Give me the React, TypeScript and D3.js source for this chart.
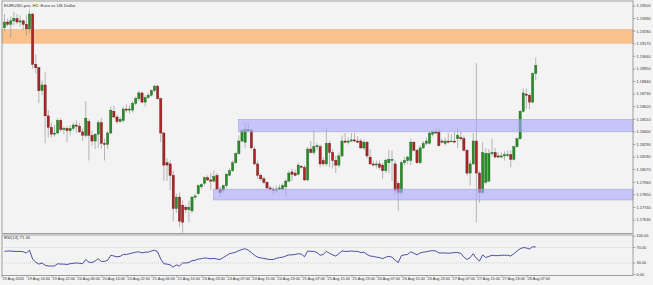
import * as d3 from 'd3';

const W = 653;
const H = 285;

// EURUSD H1, bar 0 = 19 Aug 2020 06:00
const opens = [
  1.1931, 1.1936, 1.1934, 1.1937, 1.1939, 1.1936, 1.1937, 1.1934, 1.1930, 1.1943,
  1.1899, 1.1896, 1.1876, 1.1881, 1.1854, 1.1844, 1.1838, 1.1839, 1.1850, 1.1842,
  1.1843, 1.1841, 1.1843, 1.1846, 1.1845, 1.1840, 1.1837, 1.1849, 1.1837, 1.1832,
  1.1838, 1.1848, 1.1830, 1.1829, 1.1839, 1.1858, 1.1853, 1.1849, 1.1850, 1.1860,
  1.1859, 1.1859, 1.1865, 1.1869, 1.1874, 1.1866, 1.1870, 1.1872, 1.1876, 1.1880,
  1.1869, 1.1839, 1.1813, 1.1812, 1.1802, 1.1773, 1.1783, 1.1776, 1.1774, 1.1772,
  1.1771, 1.1783, 1.1786, 1.1792, 1.1795, 1.1800, 1.1798, 1.1797, 1.1802, 1.1790,
  1.1789, 1.1793, 1.1802, 1.1806, 1.1813, 1.1821, 1.1832, 1.1831, 1.1842, 1.1841,
  1.1825, 1.1812, 1.1802, 1.1799, 1.1796, 1.1791, 1.1790, 1.1789, 1.1790, 1.1790,
  1.1792, 1.1797, 1.1805, 1.1804, 1.1803, 1.1810, 1.1809, 1.1798, 1.1825, 1.1822,
  1.1827, 1.1827, 1.1815, 1.1812, 1.1830, 1.1822, 1.1815, 1.1811, 1.1819, 1.1832,
  1.1831, 1.1832, 1.1833, 1.1832, 1.1832, 1.1826, 1.1831, 1.1818, 1.1812, 1.1811,
  1.1812, 1.1811, 1.1806, 1.1813, 1.1815, 1.1812, 1.1795, 1.1787, 1.1813, 1.1815,
  1.1815, 1.1831, 1.1824, 1.1813, 1.1826, 1.1830, 1.1830, 1.1838, 1.1840, 1.1840,
  1.1832, 1.1830, 1.1832, 1.1832, 1.1832, 1.1834, 1.1835, 1.1834, 1.1824, 1.1804,
  1.1812, 1.1832, 1.1804, 1.1787, 1.1796, 1.1797, 1.1821, 1.1822, 1.1819, 1.1818,
  1.1819, 1.1820, 1.1820, 1.1816, 1.1827, 1.1834, 1.1858, 1.1873, 1.1872, 1.1866,
  1.1891,
];

const highs = [
  1.1943, 1.1939, 1.1941, 1.1945, 1.1943, 1.1942, 1.1938, 1.1942, 1.1947, 1.1944,
  1.1908, 1.1897, 1.1885, 1.1892, 1.1859, 1.1848, 1.1846, 1.1852, 1.1852, 1.1845,
  1.1845, 1.1846, 1.1848, 1.1850, 1.1848, 1.1843, 1.1867, 1.1851, 1.1841, 1.1839,
  1.1850, 1.1852, 1.1834, 1.1841, 1.1862, 1.1863, 1.1855, 1.1853, 1.1862, 1.1864,
  1.1863, 1.1867, 1.1871, 1.1876, 1.1875, 1.1872, 1.1874, 1.1877, 1.1881, 1.1881,
  1.1870, 1.1840, 1.1817, 1.1815, 1.1806, 1.1786, 1.1787, 1.1780, 1.1776, 1.1780,
  1.1784, 1.1786, 1.1794, 1.1795, 1.1801, 1.1802, 1.1804, 1.1806, 1.1804, 1.1792,
  1.1794, 1.1804, 1.1808, 1.1815, 1.1822, 1.1837, 1.1843, 1.1848, 1.1848, 1.1843,
  1.1827, 1.1815, 1.1804, 1.1801, 1.1797, 1.1793, 1.1792, 1.1793, 1.1794, 1.1795,
  1.1799, 1.1806, 1.1808, 1.1807, 1.1813, 1.1811, 1.1811, 1.1827, 1.1832, 1.1841,
  1.1830, 1.1829, 1.1818, 1.1843, 1.1832, 1.1825, 1.1819, 1.1822, 1.1837, 1.1839,
  1.1835, 1.1839, 1.1839, 1.1836, 1.1834, 1.1833, 1.1832, 1.1825, 1.1815, 1.1815,
  1.1815, 1.1813, 1.1817, 1.1824, 1.1824, 1.1815, 1.1797, 1.1815, 1.1818, 1.1819,
  1.1834, 1.1832, 1.1825, 1.1828, 1.1832, 1.1835, 1.1840, 1.1841, 1.1844, 1.1843,
  1.1834, 1.1835, 1.1839, 1.1838, 1.1840, 1.1843, 1.1841, 1.1837, 1.1825, 1.1815,
  1.1839, 1.1900, 1.1806, 1.1831, 1.1826, 1.1825, 1.1834, 1.1826, 1.1822, 1.1822,
  1.1823, 1.1824, 1.1824, 1.1828, 1.1835, 1.1859, 1.1878, 1.1878, 1.1874, 1.1892,
  1.1905,
];

const lows = [
  1.1928, 1.1932, 1.1922, 1.1933, 1.1934, 1.1932, 1.1929, 1.1924, 1.1926, 1.1895,
  1.1891, 1.1865, 1.1872, 1.1830, 1.1835, 1.1835, 1.1836, 1.1838, 1.1840, 1.1838,
  1.1831, 1.1837, 1.1841, 1.1839, 1.1839, 1.1832, 1.1835, 1.1815, 1.1828, 1.1825,
  1.1826, 1.1825, 1.1815, 1.1825, 1.1838, 1.1852, 1.1847, 1.1848, 1.1848, 1.1857,
  1.1856, 1.1857, 1.1863, 1.1867, 1.1865, 1.1862, 1.1869, 1.1871, 1.1875, 1.1868,
  1.1831, 1.1797, 1.1797, 1.1789, 1.1762, 1.1769, 1.1757, 1.1752, 1.1769, 1.1761,
  1.1769, 1.1781, 1.1785, 1.1790, 1.1793, 1.1797, 1.1789, 1.1796, 1.1789, 1.1783,
  1.1787, 1.1791, 1.1801, 1.1805, 1.1812, 1.1820, 1.1831, 1.1826, 1.1840, 1.1825,
  1.1811, 1.1799, 1.1797, 1.1794, 1.1790, 1.1789, 1.1785, 1.1787, 1.1789, 1.1789,
  1.1783, 1.1796, 1.1797, 1.1801, 1.1802, 1.1808, 1.1797, 1.1797, 1.1821, 1.1820,
  1.1824, 1.1809, 1.1810, 1.1810, 1.1809, 1.1808, 1.1804, 1.1809, 1.1818, 1.1830,
  1.1829, 1.1831, 1.1831, 1.1830, 1.1825, 1.1824, 1.1817, 1.1811, 1.1810, 1.1808,
  1.1807, 1.1799, 1.1804, 1.1804, 1.1797, 1.1785, 1.1771, 1.1785, 1.1811, 1.1812,
  1.1811, 1.1823, 1.1812, 1.1812, 1.1825, 1.1828, 1.1829, 1.1836, 1.1838, 1.1827,
  1.1830, 1.1828, 1.1830, 1.1831, 1.1831, 1.1826, 1.1832, 1.1823, 1.1802, 1.1793,
  1.1811, 1.1761, 1.1778, 1.1786, 1.1794, 1.1796, 1.1819, 1.1817, 1.1817, 1.1817,
  1.1815, 1.1818, 1.1809, 1.1815, 1.1826, 1.1833, 1.1857, 1.1860, 1.1860, 1.1865,
  1.1885,
];

const closes = [
  1.1936, 1.1934, 1.1937, 1.1939, 1.1936, 1.1937, 1.1934, 1.1930, 1.1943, 1.1899,
  1.1896, 1.1876, 1.1881, 1.1854, 1.1844, 1.1838, 1.1839, 1.1850, 1.1842, 1.1843,
  1.1841, 1.1843, 1.1846, 1.1845, 1.1840, 1.1837, 1.1852, 1.1837, 1.1832, 1.1838,
  1.1848, 1.1830, 1.1829, 1.1839, 1.1859, 1.1853, 1.1849, 1.1851, 1.1860, 1.1859,
  1.1860, 1.1865, 1.1869, 1.1874, 1.1866, 1.1870, 1.1872, 1.1876, 1.1880, 1.1869,
  1.1839, 1.1811, 1.1811, 1.1802, 1.1773, 1.1783, 1.1762, 1.1761, 1.1772, 1.1774,
  1.1783, 1.1784, 1.1793, 1.1794, 1.1800, 1.1798, 1.1797, 1.1801, 1.1790, 1.1787,
  1.1793, 1.1803, 1.1806, 1.1813, 1.1821, 1.1832, 1.1841, 1.1842, 1.1841, 1.1826,
  1.1812, 1.1802, 1.1799, 1.1796, 1.1791, 1.1790, 1.1789, 1.1790, 1.1791, 1.1793,
  1.1797, 1.1804, 1.1803, 1.1802, 1.1811, 1.1809, 1.1798, 1.1825, 1.1822, 1.1827,
  1.1828, 1.1812, 1.1812, 1.1830, 1.1822, 1.1815, 1.1811, 1.1819, 1.1832, 1.1831,
  1.1832, 1.1833, 1.1832, 1.1831, 1.1826, 1.1831, 1.1819, 1.1812, 1.1811, 1.1812,
  1.1809, 1.1806, 1.1815, 1.1816, 1.1816, 1.1789, 1.1787, 1.1813, 1.1815, 1.1818,
  1.1831, 1.1824, 1.1813, 1.1826, 1.1830, 1.1832, 1.1839, 1.1840, 1.1839, 1.1828,
  1.1831, 1.1832, 1.1831, 1.1832, 1.1831, 1.1837, 1.1834, 1.1824, 1.1804, 1.1812,
  1.1832, 1.1804, 1.1787, 1.1822, 1.1821, 1.1821, 1.1822, 1.1818, 1.1818, 1.1819,
  1.1820, 1.1820, 1.1816, 1.1827, 1.1834, 1.1858, 1.1874, 1.1872, 1.1866, 1.1891,
  1.1898,
];

const rsi = [
  60, 61, 61, 60, 60, 60, 59, 56, 63, 40,
  32, 27, 30, 24, 22, 22, 22, 28, 27, 27,
  26, 28, 29, 30, 29, 28, 39, 32, 31, 35,
  41, 34, 34, 37, 50, 48, 46, 47, 52, 52,
  54, 56, 58, 59, 56, 58, 58, 61, 63, 59,
  40, 28, 27, 25, 19, 25, 22, 30, 30, 31,
  36, 37, 40, 41, 43, 42, 41, 42, 40, 39,
  44, 49, 54, 56, 58, 62, 65, 67, 63, 57,
  50, 45, 43, 42, 40, 39, 39, 42, 44, 45,
  48, 51, 51, 52, 54, 53, 46, 61, 60, 60,
  57, 50, 52, 60, 55, 51, 48, 54, 61, 60,
  60, 61, 60, 60, 57, 58, 52, 48, 47, 45,
  44, 41, 45, 47, 45, 37, 31, 49, 51, 52,
  59, 55, 51, 56, 58, 59, 61, 62, 61, 56,
  56, 56, 55, 56, 57, 57, 55, 45, 39, 44,
  54, 42, 35, 51, 44, 47, 50, 49, 49, 50,
  50, 50, 48, 54, 61, 67, 70, 69, 66, 72,
  71.4,
];

const priceTicks = [
  1.195, 1.1939, 1.1928, 1.1917, 1.1906, 1.1895, 1.1884, 1.1873, 1.1862,
  1.1851, 1.184, 1.1829, 1.1818, 1.1807, 1.1796, 1.1785, 1.1774, 1.1763,
];
const rsiTicks = [100, 70, 30, 0];
const rsiLevels = [70, 30];

const timeLabels = [
  '19 Aug 2020', '19 Aug 14:00', '19 Aug 22:00', '20 Aug 06:00', '20 Aug 14:00',
  '20 Aug 22:00', '21 Aug 06:00', '21 Aug 14:00', '23 Aug 23:00', '24 Aug 07:00',
  '24 Aug 15:00', '24 Aug 23:00', '25 Aug 07:00', '25 Aug 15:00', '25 Aug 23:00',
  '26 Aug 07:00', '26 Aug 15:00', '26 Aug 23:00', '27 Aug 07:00', '27 Aug 15:00',
  '27 Aug 23:00', '28 Aug 07:00',
];
const timeLabelBars = [
  0, 8, 16, 24, 32, 40, 48, 56, 64, 72, 80,
  88, 96, 104, 112, 120, 128, 136, 144, 152, 160, 168,
];

// supply / demand rectangles: starting bar (null = chart start), price range
const zoneStart = [null, 75, 67];
const zoneLow = [1.19175, 1.184, 1.17805];
const zoneHigh = [1.19295, 1.1851, 1.179];
const zoneKind = ['supply', 'demand', 'demand'];

const FONT = '"Liberation Sans", Arial, sans-serif';
const TEXT = '#333';

export default function App() {
  const left = 2;
  const right = 633;
  const mainTop = 1;
  const mainBottom = 233.5;
  const rsiTop = 235;
  const rsiBottom = 275.5;

  const x = d3.scaleLinear().domain([0, 170]).range([4.5, 535.75]);
  const y = d3.scaleLinear().domain([1.1763, 1.195]).range([220, 6]);
  const ry = d3.scaleLinear().domain([0, 100]).range([274.5, 236]);

  const bodyW = 2.2;

  const rsiPath = d3
    .line<number>()
    .x((_, i) => x(i))
    .y((d) => ry(d))(rsi);

  const zones = zoneLow.map((lo, i) => ({
    x0: zoneStart[i] == null ? left : x(zoneStart[i] as number) - 0.5,
    y0: y(zoneHigh[i]),
    y1: y(lo),
    kind: zoneKind[i],
  }));

  return (
    <svg
      width={W}
      height={H}
      style={{ position: 'absolute', left: 0, top: 0, display: 'block' }}
      fontFamily={FONT}
    >
      <rect x={0} y={0} width={W} height={H} fill="#f3f3f3" />

      {/* supply zone behind candles */}
      {zones
        .filter((z) => z.kind === 'supply')
        .map((z, i) => (
          <rect
            key={'s' + i}
            x={z.x0}
            y={z.y0}
            width={right - z.x0}
            height={z.y1 - z.y0}
            fill="#f9c28c"
            stroke="#e6b07c"
            strokeWidth={0.5}
          />
        ))}

      {/* wicks */}
      {highs.map((h, i) => (
        <line
          key={'w' + i}
          x1={x(i)}
          x2={x(i)}
          y1={y(h)}
          y2={y(lows[i])}
          stroke="#9a9a9a"
          strokeWidth={0.7}
        />
      ))}

      {/* bodies */}
      {opens.map((o, i) => {
        const c = closes[i];
        const up = c >= o;
        const top = y(Math.max(o, c));
        const h = Math.max(0.8, Math.abs(y(o) - y(c)));
        return (
          <rect
            key={'b' + i}
            x={x(i) - bodyW / 2}
            y={top}
            width={bodyW}
            height={h}
            fill={up ? '#2b8a2b' : '#a82828'}
            stroke={up ? '#136613' : '#6e1010'}
            strokeWidth={0.4}
          />
        );
      })}

      {/* demand zones drawn over the candles, semi transparent */}
      {zones
        .filter((z) => z.kind === 'demand')
        .map((z, i) => (
          <rect
            key={'d' + i}
            x={z.x0}
            y={z.y0}
            width={right - z.x0}
            height={z.y1 - z.y0}
            fill="#a8a8fb"
            fillOpacity={0.62}
            stroke="#a0a0d8"
            strokeWidth={0.5}
          />
        ))}

      {/* panel frames */}
      <rect
        x={left}
        y={mainTop}
        width={right - left}
        height={mainBottom - mainTop}
        fill="none"
        stroke="#8a8a8a"
        strokeWidth={0.8}
      />
      <rect
        x={left}
        y={rsiTop}
        width={right - left}
        height={rsiBottom - rsiTop}
        fill="none"
        stroke="#8a8a8a"
        strokeWidth={0.8}
      />

      <text x={4} y={6.6} fontSize={4.4} fill={TEXT}>
        EURUSD.pro, H1:  Euro vs US Dollar
      </text>

      {/* price axis */}
      {priceTicks.map((p) => (
        <g key={'p' + p}>
          <line x1={right} x2={right + 2.5} y1={y(p)} y2={y(p)} stroke="#666" strokeWidth={0.5} />
          <text x={right + 3.5} y={y(p)} dy="0.35em" fontSize={3.9} fill={TEXT}>
            {p.toFixed(5)}
          </text>
        </g>
      ))}

      {/* RSI panel */}
      {rsiLevels.map((v) => (
        <line
          key={'l' + v}
          x1={left}
          x2={right}
          y1={ry(v)}
          y2={ry(v)}
          stroke="#b5b5b5"
          strokeWidth={0.5}
          strokeDasharray="1 1"
        />
      ))}
      <path d={rsiPath ?? ''} fill="none" stroke="#3a3aa0" strokeWidth={0.9} />
      <text x={4} y={239.4} fontSize={4.2} fill={TEXT}>
        RSI(14) 71.40
      </text>
      {rsiTicks.map((v) => (
        <g key={'r' + v}>
          <line x1={right} x2={right + 2.5} y1={ry(v)} y2={ry(v)} stroke="#666" strokeWidth={0.5} />
          <text x={right + 3.5} y={ry(v)} dy="0.35em" fontSize={3.9} fill={TEXT}>
            {v.toFixed(2)}
          </text>
        </g>
      ))}

      {/* time axis */}
      {timeLabels.map((t, k) => {
        const tx = x(timeLabelBars[k]) - 2.5;
        return (
          <g key={'t' + k}>
            <line x1={tx} x2={tx} y1={rsiBottom} y2={rsiBottom + 2} stroke="#666" strokeWidth={0.5} />
            <text x={tx + 0.6} y={280.2} fontSize={3.8} fill={TEXT}>
              {t}
            </text>
          </g>
        );
      })}
    </svg>
  );
}
